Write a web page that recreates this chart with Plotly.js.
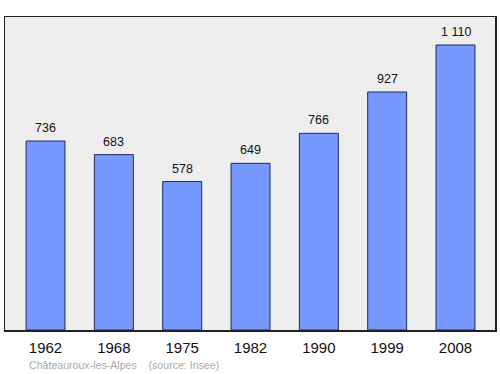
<!DOCTYPE html>
<html><head><meta charset="utf-8">
<script src="https://cdn.plot.ly/plotly-3.0.1.min.js"></script>
<style>html,body{margin:0;padding:0;background:#fff}#c{width:500px;height:374px}</style>
</head><body><div id="c"></div>
<script>
const years = ["1962","1968","1975","1982","1990","1999","2008"];
const population = [736, 683, 578, 649, 766, 927, 1110];
const sourceText = "Châteauroux-les-Alpes    (source: Insee)";

function fmt(v){ return String(v).replace(/\B(?=(\d{3})+(?!\d))/g, " "); }

const trace = {
  type: "bar", x: years, y: population, width: 0.57,
  marker: {color: "#7799ff", line: {color: "#1f2a55", width: 1}},
  hoverinfo: "none"
};
const annotations = years.map((yr, i) => ({
  x: i, y: population[i], xref: "x", yref: "y", text: fmt(population[i]),
  showarrow: false, yanchor: "bottom", yshift: 4,
  font: {family: "Liberation Sans, Arial, sans-serif", size: 12.5, color: "#111"}
}));
annotations.push({
  xref: "paper", yref: "paper", x: 22/490, y: -35/313, xanchor: "left", yanchor: "middle",
  text: sourceText, showarrow: false,
  font: {family: "Liberation Sans, Arial, sans-serif", size: 10.6, color: "#aaaaaa"}
});
const layout = {
  width: 500, height: 374,
  margin: {l: 5, r: 5, t: 17, b: 44, pad: 0},
  paper_bgcolor: "#ffffff", plot_bgcolor: "#eeeeee",
  showlegend: false,
  xaxis: {type: "category", range: [-0.593, 6.578], ticks: "", showgrid: false, zeroline: false,
    showline: true, mirror: true, linecolor: "#222", linewidth: 1.5, fixedrange: true,
    ticklabelstandoff: 3,
    tickfont: {family: "Liberation Sans, Arial, sans-serif", size: 15, color: "#111"}},
  yaxis: {range: [0, 1219], showticklabels: false, ticks: "", showgrid: false, zeroline: false,
    showline: true, mirror: true, linecolor: "#222", linewidth: 1.5, fixedrange: true},
  annotations: annotations
};
Plotly.newPlot("c", [trace], layout, {displayModeBar: false, staticPlot: true});
</script></body></html>
